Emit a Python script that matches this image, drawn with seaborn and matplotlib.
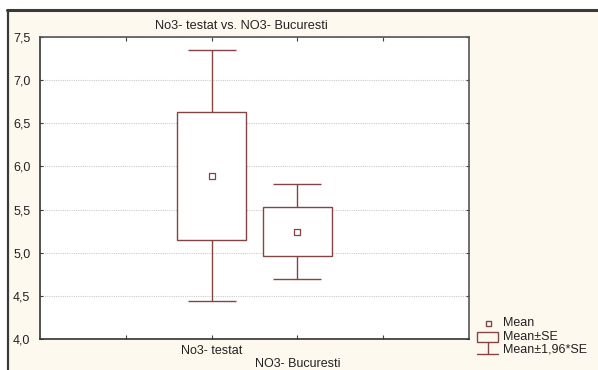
import matplotlib
matplotlib.use("Agg")
import matplotlib.pyplot as plt
from matplotlib.patches import Rectangle
from matplotlib.lines import Line2D
from matplotlib.ticker import FuncFormatter
import seaborn as sns
import pandas as pd

# Summary statistics per group
groups = ["No3- testat", "NO3- Bucuresti"]
positions = [2, 3]
means = [5.89, 5.245]
se = [0.742, 0.28]
ci_factor = 1.96

title = "No3- testat vs. NO3- Bucuresti"
legend_labels = ["Mean", "Mean\u00b1SE", "Mean\u00b11,96*SE"]

sns.set_style("white")
plt.rcParams["font.family"] = ["Liberation Sans", "DejaVu Sans"]

W, H = 598, 370
fig = plt.figure(figsize=(W / 100, H / 100), dpi=100, facecolor="white")

def fx(px):
    return px / W

def fy(py):
    return 1 - py / H

# cream panel with dark frame on top and left
fig.add_artist(Rectangle((fx(8), 0), 1 - fx(8), fy(10), transform=fig.transFigure,
                         facecolor="#FDF9EE", edgecolor="none", zorder=0))
fig.add_artist(Line2D([fx(7), 1], [fy(9.5), fy(9.5)], transform=fig.transFigure,
                      color="#3a3a3a", lw=2.2))
fig.add_artist(Line2D([fx(7.5), fx(7.5)], [0, fy(9.5)], transform=fig.transFigure,
                      color="#3a3a3a", lw=1.6))

ax = fig.add_axes([fx(40), fy(339), fx(469) - fx(40), fy(37) - fy(339)])
ax.set_facecolor("white")

col = "#844444"
df = pd.DataFrame({"group": groups, "pos": positions, "mean": means, "se": se})
df["lo"] = df["mean"] - df["se"]
df["ci"] = df["se"] * ci_factor

# whiskers (mean ± 1.96*SE), drawn beneath the boxes
ax.errorbar(df["pos"], df["mean"], yerr=df["ci"], fmt="none", ecolor=col,
            elinewidth=1.0, capsize=17.5, capthick=1.0, zorder=2)
# boxes (mean ± SE)
ax.bar(df["pos"], 2 * df["se"], bottom=df["lo"], width=0.81, color="white",
       edgecolor=col, linewidth=1.0, zorder=3)
# mean markers
sns.scatterplot(data=df, x="pos", y="mean", marker="s", s=14, color="white",
                edgecolor=col, linewidth=0.9, zorder=4, ax=ax, legend=False)

ax.set_xlim(0, 5)
ax.set_ylim(4.0, 7.5)
ax.set_yticks([4.0, 4.5, 5.0, 5.5, 6.0, 6.5, 7.0, 7.5])
ax.yaxis.set_major_formatter(FuncFormatter(lambda v, p: f"{v:.1f}".replace(".", ",")))
ax.set_xticks([1, 2, 3, 4])
ax.set_xticklabels(["", groups[0], "", ""])
ax.set_xlabel("")
ax.set_ylabel("")
ax.grid(axis="y", color="#cccccc", linestyle=(0, (1, 1)), linewidth=0.8, zorder=1)
ax.set_axisbelow(True)

ax.tick_params(axis="x", direction="in", length=3, top=True, bottom=True,
               labelsize=9, pad=4, color="#404040", labelcolor="#222222")
ax.tick_params(axis="y", direction="in", length=2, left=True, right=True,
               labelsize=9, pad=7, color="#404040", labelcolor="#222222")
for s in ax.spines.values():
    s.set_color("#555555")
    s.set_linewidth(1.2)
ax.spines["left"].set_color("#333333")
ax.spines["bottom"].set_color("#333333")

# staggered second category label
ax.text(3, -0.062, groups[1], transform=ax.get_xaxis_transform(), ha="center",
        va="top", fontsize=9, color="#222222")

ax.set_title(title, fontsize=9.2, pad=6, x=0.47, color="#222222")

# legend drawn in figure space
tf = fig.transFigure
fig.add_artist(Rectangle((fx(485.5), fy(325.5)), fx(5), fy(320.5) - fy(325.5), transform=tf,
                         facecolor="white", edgecolor=col, lw=1.0))
fig.add_artist(Rectangle((fx(477), fy(342)), fx(21), fy(332) - fy(342), transform=tf,
                         facecolor="none", edgecolor=col, lw=1.0))
fig.add_artist(Line2D([fx(487.5), fx(487.5)], [fy(342), fy(354)], transform=tf, color=col, lw=1.0))
fig.add_artist(Line2D([fx(477), fx(498)], [fy(354), fy(354)], transform=tf, color=col, lw=1.0))
for lbl, py in zip(legend_labels, [323, 337, 349]):
    fig.text(fx(503), fy(py), lbl, fontsize=9, va="center", ha="left", color="#222222")

fig.savefig("out.png", dpi=100, facecolor=fig.get_facecolor())
